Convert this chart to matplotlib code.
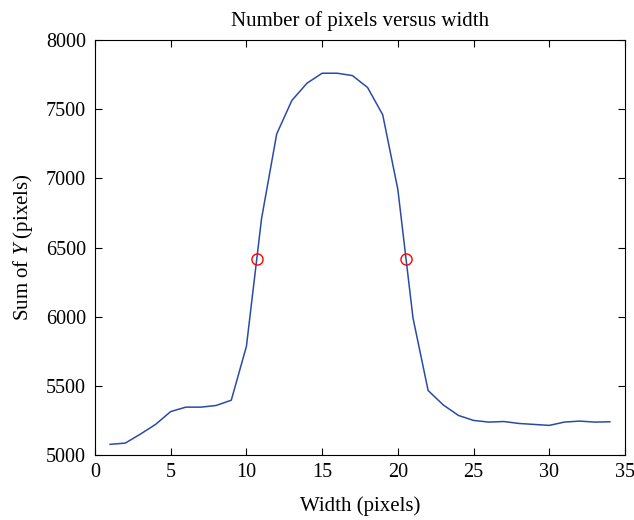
import numpy as np
import matplotlib.pyplot as plt

plt.rcParams['font.family'] = ['Liberation Serif', 'DejaVu Serif']
plt.rcParams['mathtext.fontset'] = 'custom'
plt.rcParams['mathtext.it'] = 'Liberation Serif:italic'
plt.rcParams['mathtext.rm'] = 'Liberation Serif'

width = np.arange(1, 35)
pix_sum = [5077, 5086, 5151, 5221, 5314, 5346, 5346, 5358, 5396, 5785,
           6709, 7321, 7563, 7688, 7760, 7760, 7743, 7657, 7460, 6920,
           5991, 5466, 5362, 5286, 5250, 5238, 5242, 5228, 5221, 5214,
           5238, 5245, 5238, 5240]
half_x = [10.68, 20.52]
half_y = [6418, 6418]

fig = plt.figure(figsize=(6.34, 5.2), dpi=100)
ax = fig.add_axes([0.1498, 0.125, 0.836, 0.798])
ax.plot(width, pix_sum, color='#2a4aa8', lw=1.1)
ax.plot(half_x, half_y, 'o', mfc='none', mec='red', ms=8, mew=1)

ax.set_xlim(0, 35)
ax.set_ylim(5000, 8000)
ax.set_xticks(np.arange(0, 36, 5))
ax.set_yticks(np.arange(5000, 8001, 500))
ax.tick_params(direction='in', top=True, right=True, labelsize=14.5, length=5)
ax.tick_params(axis='y', pad=6.5)
ax.tick_params(axis='x', pad=6)
ax.set_title('Number of pixels versus width', fontsize=15, pad=10)
ax.set_xlabel('Width (pixels)', fontsize=15, labelpad=10)
ax.set_ylabel('Sum of $Y$ (pixels)', fontsize=15, labelpad=8)

fig.savefig('out.png', dpi=100)
